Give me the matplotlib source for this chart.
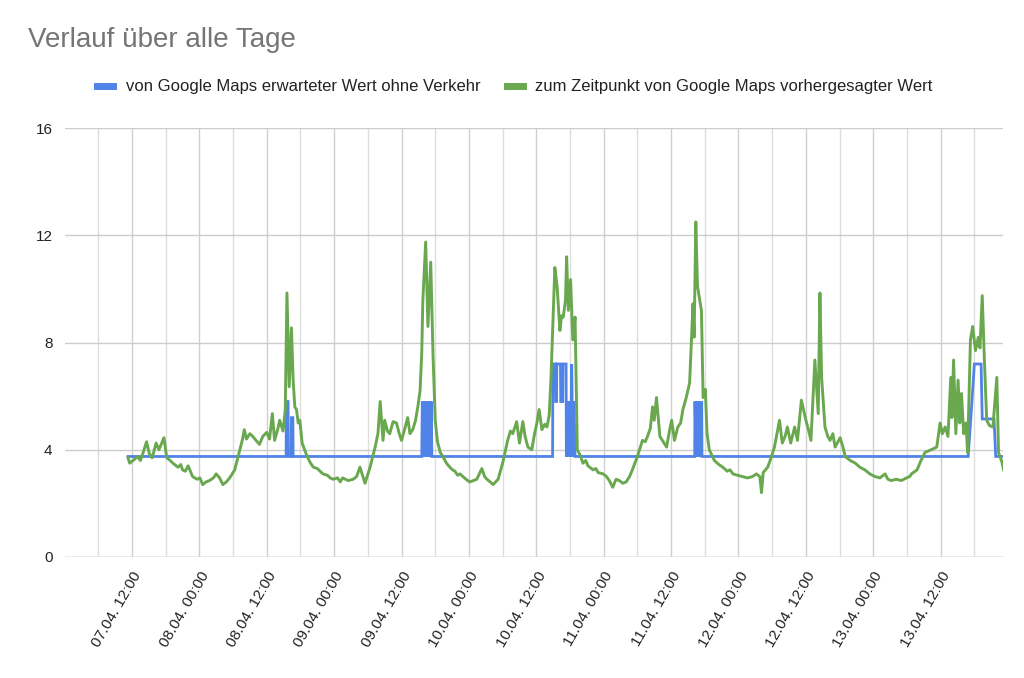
import pandas as pd
import matplotlib
matplotlib.use('Agg')
import matplotlib.pyplot as plt
import matplotlib.dates as mdates
from matplotlib.lines import Line2D

plt.rcParams['font.family'] = ['Liberation Sans', 'DejaVu Sans']

# hours since 07.04. 00:00
base = pd.Timestamp('2024-04-07 00:00')

green_h = [11.3, 11.6, 12.2, 13.0, 13.5, 14.0, 14.6, 15.1, 15.6, 16.3, 16.8, 17.2, 17.7, 18.2, 18.8, 19.3,
           20.2, 20.7, 21.0, 21.5, 22.0, 22.8, 23.6, 24.1, 24.6, 25.2, 25.8, 26.5, 27.0, 27.6, 28.2, 28.8, 29.4, 30.3,
           31.2, 31.7, 32.0, 32.4, 33.0, 33.5, 34.1, 34.7, 35.3, 36.0, 36.5, 37.0, 37.4, 38.0, 38.3,
           38.9, 39.3, 39.6, 40.0, 40.4, 40.7, 41.0, 41.3, 41.6, 41.9, 42.3, 43.2, 43.8, 44.3, 45.0,
           45.5, 46.0, 46.8, 47.3, 47.8, 48.6, 49.1, 49.5, 50.5, 51.4, 52.0, 52.6, 53.5, 54.4, 55.3, 55.8, 56.2, 56.7,
           57.0, 57.5, 57.9, 58.5, 59.1, 59.6, 60.0, 60.6, 61.1, 61.5, 62.0, 62.5, 62.9, 63.3, 63.6,
           63.8, 64.3, 64.7, 65.2, 65.6, 66.0, 66.4, 66.9, 67.5, 68.0, 68.6, 69.1, 69.5, 70.0, 70.4, 71.2, 72.1,
           72.8, 73.4, 74.3, 74.8, 75.2, 75.8, 76.3, 77.2, 78.0, 78.9, 79.4, 79.8, 80.5, 81.0, 81.6, 82.0,
           82.5, 83.2, 83.6, 84.1, 84.5, 85.0, 85.5, 85.9, 86.3, 86.6, 87.0, 87.3, 87.7, 88.2, 88.5,
           88.8, 89.2, 89.4, 89.7, 90.1, 90.5, 90.9, 91.3, 91.8, 92.3, 92.8, 93.2, 94.1, 94.6, 95.0, 95.9, 96.5,
           97.0, 97.6, 98.2, 98.8, 99.4, 100.0, 100.6, 101.1, 102.0, 102.9, 103.4, 103.8, 104.3, 104.7, 105.0,
           105.4, 106.0, 106.6, 107.2, 107.7, 108.1, 108.6, 109.2, 109.7, 110.1, 110.7, 111.3, 111.9, 112.1, 112.4,
           112.7, 113.1, 113.4, 113.7, 114.1, 114.4, 114.8, 115.7, 116.5, 117.2, 118.0, 118.5, 119.0, 119.8, 120.7, 121.6,
           122.5, 123.2, 123.8, 124.1, 124.4, 125.2, 125.8, 126.4, 127.3, 127.8, 128.3, 128.7, 129.3, 130.0, 130.5,
           131.2, 132.0, 132.4, 132.9, 133.6, 134.2, 134.5, 134.8, 135.4, 135.9, 136.3, 136.8, 137.2, 138.1, 138.6,
           139.0, 139.9, 140.8, 141.6, 142.5, 143.4, 144.3, 145.2, 146.1, 146.6, 147.2, 148.1, 149.0, 149.9, 150.5,
           150.8, 151.8, 152.5, 153.2, 154.3, 155.3, 155.9, 156.3, 156.8, 157.3, 157.8, 158.0, 158.3, 158.7, 159.1,
           159.4, 159.7, 160.1, 160.5, 160.8, 161.3, 161.7, 162.2, 162.7, 163.0, 163.4, 163.8, 164.2, 164.7, 165.3,
           166.0, 166.3, 166.9, 167.2]
green_v = [3.7, 3.5, 3.6, 3.75, 3.6, 3.9, 4.3, 3.85, 3.7, 4.25, 4.0, 4.2, 4.45, 3.7, 3.6, 3.5,
           3.35, 3.45, 3.25, 3.2, 3.4, 3.0, 2.9, 2.95, 2.7, 2.8, 2.85, 2.95, 3.1, 2.95, 2.7, 2.8, 2.95, 3.25,
           4.0, 4.4, 4.75, 4.4, 4.6, 4.5, 4.35, 4.2, 4.5, 4.65, 4.4, 5.35, 4.35, 4.8, 5.1,
           4.7, 5.5, 9.85, 6.35, 8.55, 6.6, 5.6, 5.5, 5.0, 5.1, 4.25, 3.75, 3.5, 3.35, 3.3,
           3.2, 3.1, 3.05, 2.95, 2.9, 2.95, 2.8, 2.95, 2.85, 2.9, 3.0, 3.35, 2.75, 3.35, 4.1, 4.6, 5.8, 4.35,
           5.1, 4.7, 4.6, 5.05, 5.0, 4.6, 4.35, 4.8, 5.2, 4.6, 4.75, 5.1, 5.6, 6.2, 7.6,
           9.6, 11.75, 8.6, 11.0, 7.6, 5.1, 4.3, 3.9, 3.7, 3.5, 3.35, 3.25, 3.2, 3.05, 3.1, 2.95, 2.8,
           2.85, 2.9, 3.3, 3.0, 2.9, 2.8, 2.7, 2.9, 3.5, 4.35, 4.7, 4.6, 5.05, 4.25, 5.05, 4.5,
           4.1, 4.0, 4.5, 5.0, 5.5, 4.75, 4.95, 4.85, 5.3, 6.6, 8.95, 10.8, 10.1, 8.45, 9.0,
           8.95, 9.6, 11.2, 9.2, 10.35, 8.1, 8.95, 4.0, 3.8, 3.5, 3.6, 3.4, 3.25, 3.3, 3.15, 3.1, 3.0,
           2.85, 2.6, 2.9, 2.85, 2.75, 2.8, 3.0, 3.25, 3.75, 4.35, 4.3, 4.5, 4.8, 5.6, 5.1,
           5.95, 4.5, 4.3, 4.1, 4.7, 5.1, 4.35, 4.85, 5.0, 5.5, 5.95, 6.5, 9.45, 8.2, 12.5,
           10.1, 9.6, 9.2, 5.95, 6.25, 4.6, 4.0, 3.6, 3.45, 3.35, 3.2, 3.25, 3.1, 3.05, 3.0, 2.95,
           3.0, 3.1, 3.0, 2.4, 3.15, 3.35, 3.7, 4.1, 5.1, 4.25, 4.5, 4.85, 4.25, 4.85, 4.35,
           5.85, 5.1, 4.8, 4.35, 7.35, 5.35, 9.85, 6.7, 4.85, 4.5, 4.35, 4.6, 4.1, 4.45, 4.1,
           3.75, 3.6, 3.5, 3.35, 3.25, 3.1, 3.0, 2.95, 3.1, 2.9, 2.85, 2.9, 2.85, 2.95, 3.0,
           3.1, 3.25, 3.6, 3.9, 4.0, 4.1, 5.0, 4.6, 4.85, 4.5, 6.7, 5.2, 7.35, 4.6, 6.6,
           5.0, 6.1, 4.6, 5.0, 3.9, 8.1, 8.6, 7.7, 8.2, 7.8, 9.75, 7.25, 5.1, 4.9, 4.85,
           6.7, 3.9, 3.55, 3.25]

blue_h = [11.3, 39.45, 39.5, 39.8, 39.85, 40.35, 40.4, 40.65, 40.7,
          63.6, 63.7, 63.9, 64.1, 64.3, 64.5, 64.7, 64.9, 65.1, 65.3, 65.4,
          86.9, 86.95, 87.4, 87.45, 87.6, 87.65, 88.3, 88.35, 88.7, 88.75, 89.3, 89.35,
          89.5, 89.7, 89.9, 90.1, 90.3, 90.5, 90.7, 90.9,
          112.2, 112.25, 112.45, 112.65, 112.85, 113.05, 113.25, 113.45, 113.5,
          160.9, 161.5, 162.0, 163.2, 163.4, 165.5, 165.8, 167.2]
blue_v = [3.75, 3.75, 5.8, 5.8, 3.75, 3.75, 5.2, 5.2, 3.75,
          3.75, 5.8, 3.75, 5.8, 3.75, 5.8, 3.75, 5.8, 3.75, 5.8, 3.75,
          3.75, 7.2, 7.2, 5.8, 5.8, 7.2, 7.2, 5.8, 5.8, 7.2, 7.2, 3.75,
          5.8, 3.75, 5.8, 3.75, 7.2, 3.75, 5.8, 3.75,
          3.75, 5.8, 3.75, 5.8, 3.75, 5.8, 3.75, 5.8, 3.75,
          3.75, 5.6, 7.2, 7.2, 5.15, 5.15, 3.75, 3.75]

blue_label = 'von Google Maps erwarteter Wert ohne Verkehr'
green_label = 'zum Zeitpunkt von Google Maps vorhergesagter Wert'
blue_color = '#5083e8'
green_color = '#6aa84f'

green_t = base + pd.to_timedelta(green_h, unit='h')
blue_t = base + pd.to_timedelta(blue_h, unit='h')

fig = plt.figure(figsize=(10.24, 6.78), dpi=100)
ax = fig.add_axes([0.0635, 0.1785, 0.916, 0.6325])

ax.plot(blue_t, blue_v, color=blue_color, lw=2.0, solid_joinstyle='miter')
ax.plot(green_t, green_v, color=green_color, lw=2.1)

ax.set_ylim(0, 16)
ax.set_yticks([0, 4, 8, 12, 16])
ax.set_xlim(base + pd.Timedelta(minutes=5), base + pd.Timedelta(hours=167.1))

ax.xaxis.set_major_locator(mdates.HourLocator(byhour=[0, 12]))
ax.xaxis.set_minor_locator(mdates.HourLocator(byhour=[6, 18]))
ax.xaxis.set_major_formatter(mdates.DateFormatter('%d.%m. %H:%M'))

ax.grid(axis='y', color='#cccccc', lw=1)
ax.grid(axis='x', which='major', color='#d0d0d0', lw=1)
ax.grid(axis='x', which='minor', color='#dedede', lw=1)
ax.set_axisbelow(True)
for s in ax.spines.values():
    s.set_visible(False)
ax.axhline(0, color='#bdbdbd', lw=1, zorder=0.5)

ax.tick_params(axis='both', which='both', length=0, labelsize=11, labelcolor='#222222')
ax.tick_params(axis='y', pad=9)
ax.tick_params(axis='x', pad=9)
for lbl in ax.get_xticklabels():
    lbl.set_rotation(60)
    lbl.set_ha('right')
    lbl.set_rotation_mode('anchor')

fig.text(28 / 1024, 1 - 40 / 678, 'Verlauf über alle Tage', fontsize=20,
         color='#757575', va='center', ha='left')

handles = [Line2D([], [], color=blue_color, lw=5),
           Line2D([], [], color=green_color, lw=5)]
fig.legend(handles, [blue_label, green_label], loc='center',
           bbox_to_anchor=(0.503, 1 - 87 / 678), ncol=2, frameon=False,
           fontsize=12, handlelength=0.95, handletextpad=0.75, columnspacing=1.6,
           labelcolor='#222222')

fig.savefig('out.png', dpi=100)
